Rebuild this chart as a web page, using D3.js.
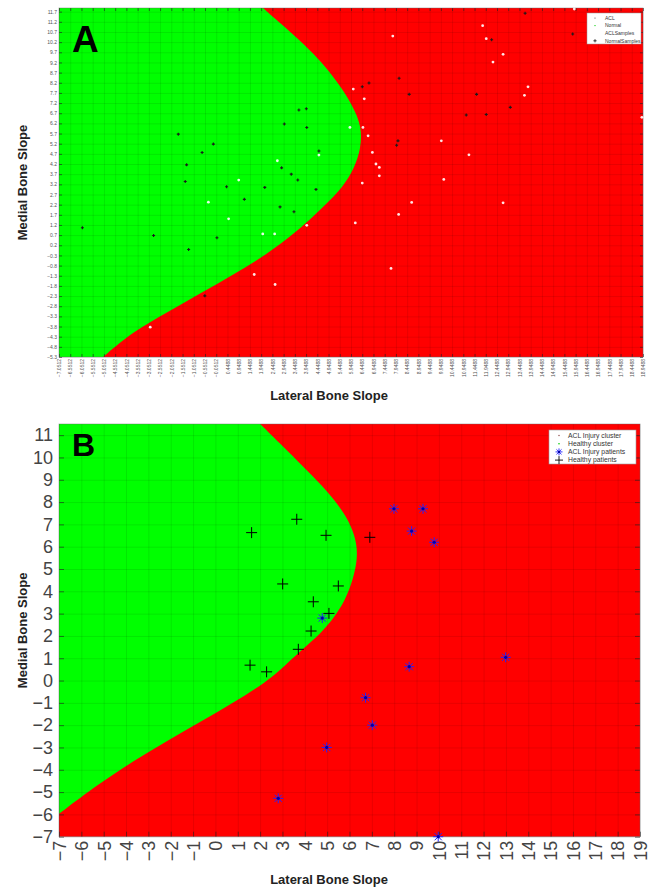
<!DOCTYPE html>
<html>
<head>
<meta charset="utf-8">
<script src="https://cdn.jsdelivr.net/npm/d3@7"></script>
<style>
  body { margin: 0; background: #fff; }
</style>
</head>
<body>
<svg id="chart" width="656" height="887"></svg>
<script>
const FONT = "Arial, 'Liberation Sans', sans-serif";

// ---- panel A data ----
var xTicksA = d3.range(0, 53).map(i => -7.0512 + i * 0.5);
var yTicksA = d3.range(0, 35).map(i => 11.7 - i * 0.5);
var boundaryA = [[2.03,11.88],[3.0,10.95],[3.9,10.05],[4.65,9.2],[5.3,8.3],[5.85,7.4],[6.22,6.6],[6.42,5.85],
  [6.38,4.95],[6.1,4.0],[5.6,3.1],[5.0,2.4],[4.3,1.65],[3.5,0.85],[2.21,-0.25],[0.70,-1.25],[-0.77,-2.18],
  [-2.24,-3.1],[-3.75,-4.05],[-5.09,-5.30]];
var normalSamplesA = [[-1.74,5.67],[-0.18,5.18],[-0.68,4.77],[-1.37,4.16],[-1.43,3.34],[0.41,3.08],[2.11,3.05],
  [2.86,4.01],[3.29,3.70],[3.58,3.41],[2.98,6.17],[3.63,6.86],[3.96,6.92],[3.98,6.00],[4.52,4.84],[4.39,2.95],
  [1.20,2.46],[2.79,2.09],[3.41,1.85],[-6.01,1.06],[-2.84,0.68],[-0.02,0.57],[-1.28,-0.01],[-0.56,-2.29],
  [12.21,10.32],[13.70,11.62],[15.82,10.60],[6.45,8.00],[6.75,8.19],[8.09,8.42],[8.54,7.63],[11.54,7.63],
  [13.04,6.99],[11.08,6.61],[11.97,6.64],[8.04,5.34],[7.98,5.12]];
var aclSamplesA = [[0.95,3.41],[2.67,4.36],[4.52,4.64],[-0.40,2.32],[0.50,1.50],[2.02,0.76],[2.55,0.76],
  [3.98,1.18],[1.64,-1.24],[2.57,-1.73],[-2.99,-3.83],[7.81,10.50],[11.81,11.01],[11.97,10.37],[12.72,9.60],
  [12.27,9.22],[15.89,11.83],[6.05,7.89],[6.54,7.41],[13.83,8.00],[13.67,7.58],[5.90,6.00],[6.48,6.00],
  [6.71,5.59],[9.97,5.34],[6.90,4.77],[11.20,4.65],[7.06,4.20],[7.21,4.03],[7.21,3.62],[6.45,3.26],
  [10.08,3.44],[18.90,6.50],[8.65,2.31],[12.72,2.29],[8.07,1.72],[6.14,1.30],[7.73,-0.94]];
var legendA = ["ACL", "Normal", "ACLSamples", "NormalSamples"];

// ---- panel B data ----
var xTicksB = d3.range(-7, 20, 1);
var yTicksB = d3.range(-7, 12, 1);
var boundaryB = [[2.0,11.5],[3.04,10.48],[3.93,9.59],[4.83,8.69],[5.57,7.79],[6.02,7.05],[6.29,6.30],
  [6.35,5.70],[6.29,5.10],[6.10,4.36],[5.80,3.61],[5.43,3.01],[4.98,2.41],[4.38,1.81],[3.78,1.29],
  [3.2,0.75],[2.31,-0.05],[0.79,-1.0],[-0.69,-1.86],[-2.17,-2.72],[-3.69,-3.62],[-5.17,-4.6],[-7.0,-5.97]];
var healthyB = [[1.62,6.63],[3.64,7.23],[4.95,6.51],[6.91,6.42],[3.01,4.33],[5.50,4.24],[4.38,3.53],
  [5.08,3.01],[4.28,2.22],[3.71,1.40],[1.55,0.69],[2.29,0.39]];
var aclB = [[4.78,2.80],[7.99,7.70],[9.29,7.70],[8.78,6.70],[9.79,6.20],[12.99,1.04],[8.67,0.62],
  [6.72,-0.77],[7.02,-2.0],[2.81,-5.28],[4.98,-3.0],[9.97,-7.0]];
var legendB = ["ACL Injury cluster", "Healthy cluster", "ACL Injury patients", "Healthy patients"];

const svg = d3.select("#chart");

function plus(s) { return `M${-s},0H${s}M0,${-s}V${s}`; }
function star(s) {
  const d = s * 0.72;
  return `M${-s},0H${s}M0,${-s}V${s}M${-d},${-d}L${d},${d}M${-d},${d}L${d},${-d}`;
}

function panel(o) {
  const x = d3.scaleLinear().domain(o.xDomain).range([o.left, o.right]);
  const y = d3.scaleLinear().domain(o.yDomain).range([o.bottom, o.top]);
  const g = svg.append("g");
  const w = o.right - o.left, h = o.bottom - o.top;

  g.append("rect").attr("x", o.left).attr("y", o.top).attr("width", w).attr("height", h).attr("fill", "#ff0000");

  // green (healthy) region left of the boundary
  const line = d3.line().x(d => x(d[0])).y(d => y(d[1])).curve(d3.curveBasis);
  const b = o.boundary;
  g.append("path")
    .attr("d", line(b) + "L" + x(o.xDomain[0]) + "," + y(b[b.length - 1][1]) +
      "L" + x(o.xDomain[0]) + "," + y(b[0][1]) + "Z")
    .attr("fill", "#00ff00");

  // grid
  g.append("g").attr("transform", `translate(0,${o.bottom})`)
    .call(d3.axisBottom(x).tickValues(o.xTicks).tickSize(-h).tickFormat(""))
    .call(a => a.select(".domain").remove())
    .selectAll("line").attr("stroke", "#000").attr("stroke-opacity", 0.09);
  g.append("g").attr("transform", `translate(${o.left},0)`)
    .call(d3.axisLeft(y).tickValues(o.yTicks).tickSize(-w).tickFormat(""))
    .call(a => a.select(".domain").remove())
    .selectAll("line").attr("stroke", "#000").attr("stroke-opacity", 0.09);

  // axes
  const ax = g.append("g").attr("transform", `translate(0,${o.bottom})`)
    .call(d3.axisBottom(x).tickValues(o.xTicks).tickFormat(o.xFormat).tickSizeInner(-o.tick).tickSizeOuter(0));
  ax.attr("font-family", FONT).attr("font-size", o.fs);
  ax.select(".domain").remove();
  ax.selectAll("line").attr("stroke", "#222").attr("stroke-opacity", 0.6);
  ax.selectAll("text").attr("transform", "rotate(-90)").attr("x", -o.xPad).attr("y", 0)
    .attr("dy", "0.35em").attr("text-anchor", "end").attr("fill", o.tc);

  const ay = g.append("g").attr("transform", `translate(${o.left},0)`)
    .call(d3.axisLeft(y).tickValues(o.yTicks).tickFormat(o.yFormat).tickSizeInner(-o.tick).tickSizeOuter(0).tickPadding(o.yPad));
  ay.attr("font-family", FONT).attr("font-size", o.fs);
  ay.select(".domain").remove();
  ay.selectAll("line").attr("stroke", "#222").attr("stroke-opacity", 0.6);
  ay.selectAll("text").attr("fill", o.tc);

  const ar = g.append("g").attr("transform", `translate(${o.right},0)`)
    .call(d3.axisRight(y).tickValues(o.yTicks).tickFormat("").tickSizeInner(-o.tick).tickSizeOuter(0));
  ar.select(".domain").remove();
  ar.selectAll("line").attr("stroke", "#222").attr("stroke-opacity", 0.6);
  if (o.topTicks) {
    const at = g.append("g").attr("transform", `translate(0,${o.top})`)
      .call(d3.axisTop(x).tickValues(o.xTicks).tickFormat("").tickSizeInner(-o.tick).tickSizeOuter(0));
    at.select(".domain").remove();
    at.selectAll("line").attr("stroke", "#222").attr("stroke-opacity", 0.6);
  }

  g.append("rect").attr("x", o.left).attr("y", o.top).attr("width", w).attr("height", h)
    .attr("fill", "none").attr("stroke", "#666").attr("stroke-opacity", 0.5).attr("stroke-width", 0.8);

  // titles
  g.append("text").attr("x", 329).attr("y", o.xTitleY).attr("text-anchor", "middle")
    .attr("font-family", FONT).attr("font-weight", "bold").attr("font-size", 13).attr("fill", "#222")
    .text("Lateral Bone Slope");
  g.append("text").attr("transform", `translate(${o.yTitleX},${(o.top + o.bottom) / 2}) rotate(-90)`)
    .attr("text-anchor", "middle").attr("font-family", FONT).attr("font-weight", "bold")
    .attr("font-size", 13).attr("fill", "#222").text("Medial Bone Slope");
  g.append("text").attr("x", o.left + 13).attr("y", o.letterY).attr("font-family", FONT)
    .attr("font-weight", "bold").attr("font-size", o.letterSize).attr("fill", "#000").text(o.letter);

  return { x, y, g };
}

// ---------- Panel A ----------
const A = panel({
  left: 59, right: 643, top: 8, bottom: 357,
  xDomain: [-7.0512, 18.9488], yDomain: [-5.3, 11.88],
  xTicks: xTicksA, yTicks: yTicksA,
  xFormat: d3.format(".4f"), yFormat: d3.format(".1f"),
  tick: 3, fs: 5, tc: "#555", xPad: 2, yPad: 2, topTicks: true,
  boundary: boundaryA, xTitleY: 400, yTitleX: 27, letter: "A", letterY: 52, letterSize: 37
});

A.g.selectAll(".ws").data(aclSamplesA).enter().append("circle")
  .attr("cx", d => A.x(d[0])).attr("cy", d => A.y(d[1])).attr("r", 1.4)
  .attr("fill", "#fff").attr("fill-opacity", 0.9);
A.g.selectAll(".ns").data(normalSamplesA).enter().append("path")
  .attr("transform", d => `translate(${A.x(d[0])},${A.y(d[1])})`)
  .attr("d", plus(1.5)).attr("stroke", "#1a1a1a").attr("stroke-width", 1.1).attr("fill", "none");

const legA = A.g.append("g");
legA.append("rect").attr("x", 587).attr("y", 13).attr("width", 54).attr("height", 31)
  .attr("fill", "#fff").attr("stroke", "#999").attr("stroke-width", 0.5);
legendA.forEach((t, i) => {
  const yy = 18 + i * 7.6;
  legA.append("text").attr("x", 605).attr("y", yy).attr("dy", "0.35em").attr("font-family", FONT)
    .attr("font-size", 5).attr("fill", "#333").text(t);
  if (i === 0) legA.append("circle").attr("cx", 595).attr("cy", yy).attr("r", 0.6).attr("fill", "#444");
  if (i === 1) legA.append("circle").attr("cx", 595).attr("cy", yy).attr("r", 0.7).attr("fill", "#00cc00");
  if (i === 3) legA.append("path").attr("transform", `translate(595,${yy})`).attr("d", plus(1.6))
    .attr("stroke", "#111").attr("stroke-width", 0.8);
});

// ---------- Panel B ----------
const B = panel({
  left: 59, right: 640, top: 424, bottom: 836.7,
  xDomain: [-7, 19], yDomain: [-7, 11.5],
  xTicks: xTicksB, yTicks: yTicksB,
  xFormat: d3.format("d"), yFormat: d3.format("d"),
  tick: 5, fs: 18, tc: "#444", xPad: 4, yPad: 6, topTicks: false,
  boundary: boundaryB, xTitleY: 884, yTitleX: 27, letter: "B", letterY: 456, letterSize: 32
});

B.g.selectAll(".hp").data(healthyB).enter().append("path")
  .attr("transform", d => `translate(${B.x(d[0])},${B.y(d[1])})`)
  .attr("d", plus(5.5)).attr("stroke", "#000").attr("stroke-width", 1).attr("fill", "none");
const ap = B.g.selectAll(".ap").data(aclB).enter().append("g")
  .attr("transform", d => `translate(${B.x(d[0])},${B.y(d[1])})`);
ap.append("path").attr("d", star(5)).attr("stroke", "#2222ff").attr("stroke-width", 1).attr("fill", "none");
ap.append("circle").attr("r", 1.6).attr("fill", "#0000aa");

const legB = B.g.append("g");
legB.append("rect").attr("x", 549).attr("y", 430).attr("width", 87).attr("height", 34)
  .attr("fill", "#fff").attr("stroke", "#999").attr("stroke-width", 0.6);
legendB.forEach((t, i) => {
  const yy = 435.5 + i * 8.2;
  legB.append("text").attr("x", 568).attr("y", yy).attr("dy", "0.35em").attr("font-family", FONT)
    .attr("font-size", 6.8).attr("fill", "#333").text(t);
  if (i === 0) legB.append("circle").attr("cx", 559).attr("cy", yy).attr("r", 0.7).attr("fill", "#884444");
  if (i === 1) legB.append("circle").attr("cx", 559).attr("cy", yy).attr("r", 0.8).attr("fill", "#00cc00");
  if (i === 2) {
    legB.append("path").attr("transform", `translate(559,${yy})`).attr("d", star(3.5))
      .attr("stroke", "#2222ff").attr("stroke-width", 0.9);
    legB.append("circle").attr("cx", 559).attr("cy", yy).attr("r", 1.2).attr("fill", "#0000aa");
  }
  if (i === 3) legB.append("path").attr("transform", `translate(559,${yy})`).attr("d", plus(4))
    .attr("stroke", "#000").attr("stroke-width", 0.9);
});
</script>
</body>
</html>
